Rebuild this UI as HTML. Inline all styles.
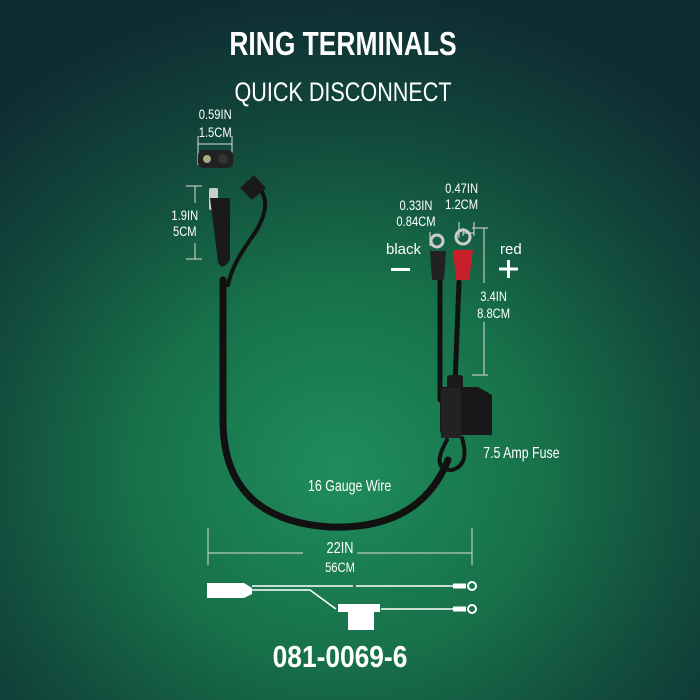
<!DOCTYPE html>
<html><head><style>
html,body{margin:0;padding:0;width:700px;height:700px;overflow:hidden}
body{background:radial-gradient(ellipse 520px 480px at 340px 470px,#1f8d5c 0%,#177049 40%,#124a3c 70%,#0f2c33 100%);}
svg{position:absolute;left:0;top:0}
text{font-family:"Liberation Sans",sans-serif;fill:#fff}
</style></head><body>
<svg width="700" height="700" viewBox="0 0 700 700">
<g transform="translate(343,55) scale(0.8,1)"><text x="0" y="0" text-anchor="middle" font-size="33" font-weight="bold">RING TERMINALS</text></g>
<g transform="translate(343,101) scale(0.8,1)"><text x="0" y="0" text-anchor="middle" font-size="27">QUICK DISCONNECT</text></g>

<g transform="scale(0.8,1)" font-size="14">
<text x="269" y="119" text-anchor="middle">0.59IN</text>
<text x="269" y="137" text-anchor="middle">1.5CM</text>
<text x="231" y="220" text-anchor="middle">1.9IN</text>
<text x="231" y="236" text-anchor="middle">5CM</text>
<text x="520" y="210" text-anchor="middle">0.33IN</text>
<text x="520" y="226" text-anchor="middle">0.84CM</text>
<text x="577" y="193" text-anchor="middle">0.47IN</text>
<text x="577" y="209" text-anchor="middle">1.2CM</text>
<text x="617" y="301" text-anchor="middle">3.4IN</text>
<text x="617" y="318" text-anchor="middle">8.8CM</text>
<text x="604" y="458" font-size="15.5">7.5 Amp Fuse</text>
<text x="385" y="491" font-size="15.5">16 Gauge Wire</text>
<text x="425" y="553" text-anchor="middle" font-size="16">22IN</text>
<text x="425" y="572" text-anchor="middle">56CM</text>
</g>
<g stroke="#ddd" stroke-width="1" fill="none">
<path d="M198 136V165M232 136V165M198 144H232"/>
<path d="M186 186H202M195 186V203M195 243V259M186 259H202"/>
<path d="M430 232V246M459 222V238"/>
<path d="M463 228V236M463 233H474M474 222V236"/>
<path d="M472 228H488M484 228V283M484 322V375M472 375H488"/>
<path d="M208 528V565M472 528V565M208 553H303M357 553H472"/>
</g>
<text x="386" y="254" font-size="15">black</text>
<rect x="391" y="268" width="19" height="3" fill="#fff"/>
<text x="500" y="254" font-size="15">red</text>
<path d="M499 269H518M508.5 260V278" stroke="#fff" stroke-width="3"/>

<!-- cables -->
<g fill="none" stroke="#111" stroke-linecap="round">
<path d="M223 280V420Q223 520 330 527Q420 530 448 460" stroke-width="7"/>
<path d="M262 192Q272 210 250 240Q232 265 228 285" stroke-width="4"/>
<path d="M440 278V400" stroke-width="5"/>
<path d="M459 282L455 385" stroke-width="5"/>
<path d="M447 440Q430 470 452 470Q470 465 462 438" stroke-width="4"/>
</g>
<!-- SAE plug -->
<rect x="209" y="188" width="9" height="22" rx="2" fill="#ccc"/>
<path d="M210 198H230L230 260Q222 272 218 262Z" fill="#1a1a1a"/>
<path d="M240 188L254 175L266 188L252 200Z" fill="#1a1a1a"/>
<rect x="198" y="150" width="35" height="18" rx="5" fill="#222"/>
<circle cx="207" cy="159" r="4" fill="#aa8"/><circle cx="223" cy="159" r="5" fill="#333"/>
<!-- ring terminals -->
<circle cx="437" cy="241" r="6" fill="none" stroke="#ccc" stroke-width="3"/>
<circle cx="463" cy="237" r="7" fill="none" stroke="#ccc" stroke-width="3"/>
<path d="M430 251H446L444 280H432Z" fill="#222"/>
<path d="M453 250H473L469 280H456Z" fill="#c8202a"/>
<!-- fuse -->
<rect x="447" y="375" width="16" height="14" rx="3" fill="#1a1a1a"/>
<path d="M440 387H478L492 395V435H445Q440 435 440 430Z" fill="#181818"/>
<rect x="441" y="388" width="20" height="50" fill="#222"/>
<!-- bottom schematic -->
<g fill="#fff" stroke="#fff">
<path d="M207 583H244L252 588V594L244 598H207Z" stroke="none"/>
<path d="M252 586H353M356 586H455M252 590H310L336 609M381 609H455" stroke-width="1.5" fill="none"/>
<rect x="338" y="604" width="42" height="8" stroke="none"/>
<rect x="348" y="609" width="26" height="21" stroke="none"/>
<path d="M453 586H466M453 609H466" stroke-width="5"/>
<circle cx="472" cy="586" r="4" fill="none" stroke-width="2"/>
<circle cx="472" cy="609" r="4" fill="none" stroke-width="2"/>
</g>
<g transform="translate(340,667) scale(0.85,1)"><text x="0" y="0" text-anchor="middle" font-size="31" font-weight="bold">081-0069-6</text></g>
</svg>
</body></html>
